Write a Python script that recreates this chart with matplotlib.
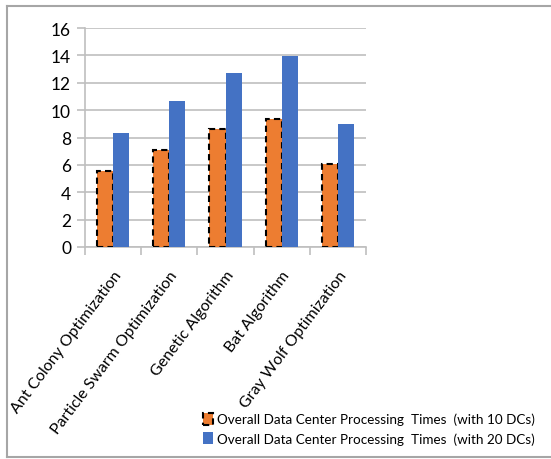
import matplotlib
matplotlib.use("Agg")
import matplotlib.pyplot as plt
from matplotlib.patches import Patch
from matplotlib.lines import Line2D
import numpy as np

algorithms = ["Ant Colony Optimization", "Particle Swarm Optimization",
              "Genetic Algorithm", "Bat Algorithm", "Gray Wolf Optimization"]
times_10dc = [5.55, 7.1, 8.62, 9.35, 6.1]
times_20dc = [8.3, 10.65, 12.68, 13.95, 8.95]
y_ticks = [0, 2, 4, 6, 8, 10, 12, 14, 16]
series_labels = ["Overall Data Center Processing  Times  (with 10 DCs)",
                 "Overall Data Center Processing  Times  (with 20 DCs)"]

plt.rcParams["font.family"] = ["Lato", "DejaVu Sans"]

W, H = 551, 460
fig = plt.figure(figsize=(W / 100, H / 100), dpi=100)
ax = fig.add_axes([85 / W, 1 - 248 / H, (366 - 85) / W, (248 - 29) / H])

x = np.arange(len(algorithms))
bw = 0.286
orange = "#ED7D31"
blue = "#4472C4"
grid_c = "#BFBFBF"

ax.bar(x - bw / 2, times_10dc, width=bw, color=orange, edgecolor="black",
       linestyle=(0, (3, 2)), linewidth=1.5, zorder=3)
ax.bar(x + bw / 2, times_20dc, width=bw, color=blue, zorder=3)

ax.set_xlim(-0.5, len(algorithms) - 0.5)
ax.set_ylim(0, 16)
ax.set_yticks(y_ticks)
ax.set_yticklabels([str(v) for v in y_ticks], fontsize=12.5)
ax.yaxis.grid(True, color=grid_c, linewidth=1.2, zorder=0)
ax.set_axisbelow(True)

ax.set_xticks(np.arange(-0.5, len(algorithms)), minor=True)
ax.set_xticks(x)
ax.set_xticklabels(algorithms, rotation=53, ha="right", rotation_mode="anchor",
                   fontsize=11.4)
ax.tick_params(axis="x", which="major", length=0, pad=15)
ax.tick_params(axis="x", which="minor", length=6, color=grid_c, width=1.2)
ax.tick_params(axis="y", length=6, color=grid_c, width=1.2, pad=4)

for s in ["top", "right"]:
    ax.spines[s].set_visible(False)
for s in ["left", "bottom"]:
    ax.spines[s].set_color(grid_c)
    ax.spines[s].set_linewidth(1.2)

# outer frame (left, top, bottom edges)
frame_c = "#A6A6A6"
fig.add_artist(Line2D([7 / W, 7 / W], [1 - 7 / H, 1 - 458 / H], color=frame_c, lw=1.5))
fig.add_artist(Line2D([7 / W, 1.0], [1 - 7 / H, 1 - 7 / H], color=frame_c, lw=1.5))
fig.add_artist(Line2D([7 / W, 1.0], [1 - 458 / H, 1 - 458 / H], color=frame_c, lw=1.5))

handles = [Patch(facecolor=orange, edgecolor="black", linestyle=(0, (3, 2)), linewidth=1.5),
           Patch(facecolor=blue)]
fig.legend(handles, series_labels, loc="upper left",
           bbox_to_anchor=(196 / W, 1 - 407 / H), frameon=False, fontsize=9.7,
           handlelength=0.75, handleheight=1.0, handletextpad=0.3,
           labelspacing=0.5, borderpad=0)

fig.savefig("out.png", dpi=100)
